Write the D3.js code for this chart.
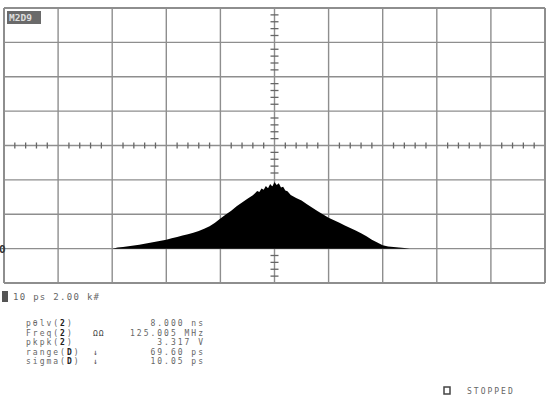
<!DOCTYPE html>
<html>
<head>
<meta charset="utf-8">
<script src="https://cdn.jsdelivr.net/npm/d3@7"></script>
<style>
  body { margin: 0; background: #fff; }
  svg { display: block; }
  text { font-family: "DejaVu Sans Mono", monospace; fill: #666; }
</style>
</head>
<body>
<div id="scope"></div>
<script>
// histogram bins: time (ps) vs hits (k#)
const binTime = [-30,-29,-28,-27,-26,-25,-24,-23,-22,-21,-20,-19,-18,-17,-16,-15,-14,-13,-12,-11,
                 -10,-9,-8,-7,-6,-5,-4,3,4,5,6,7,8,9,
                 10,11,12,13,14,15,16,17,18,19,20,21,22,23,24,25];
const binHits = [0.00,0.06,0.10,0.14,0.18,0.23,0.28,0.34,0.40,0.46,0.52,0.60,0.68,0.76,0.84,0.93,1.03,1.15,1.30,1.50,
                 1.75,1.98,2.20,2.46,2.68,2.90,3.10,3.12,2.95,2.80,2.58,2.38,2.18,1.98,
                 1.80,1.65,1.50,1.35,1.20,1.05,0.90,0.72,0.52,0.35,0.20,0.13,0.09,0.06,0.03,0.00];
// finer, noisy bins around the peak
const peakTime = [-3.6,-3.2,-2.8,-2.4,-2.0,-1.6,-1.2,-0.8,-0.4,0.0,0.4,0.8,1.2,1.6,2.0,2.4];
const peakHits = [3.22,3.36,3.30,3.50,3.42,3.64,3.52,3.76,3.62,3.88,3.70,3.80,3.56,3.60,3.38,3.34];

const measLabels = ["p\u03b8lv(", "Freq(", "pkpk(", "range(", "sigma("];
const measSrc    = ["2", "2", "2", "D", "D"];
const measMark   = ["", "\u03a9\u03a9", "", "\u2193", "\u2193"];
const measValues = ["8.000 ns", "125.005 MHz", "3.317 V", "69.60 ps", "10.05 ps"];

const W = 548, H = 403;
const svg = d3.select("#scope").append("svg").attr("width", W).attr("height", H);

const x = d3.scaleLinear().domain([-50, 50]).range([4, 545]);
const y = d3.scaleLinear().domain([-2, 14]).range([283, 8]);

const gridCol = "#8e8e8e";
const xDivs = d3.range(-50, 51, 10);
const yDivs = d3.range(-2, 15, 2);

// grid
svg.selectAll(".vgrid")
    .data(xDivs)
    .enter()
    .append("line")
    .attr("x1", d => x(d)).attr("x2", d => x(d))
    .attr("y1", y(14)).attr("y2", y(-2))
    .attr("stroke", gridCol)
    .attr("stroke-width", d => (d === -50 || d === 50) ? 2 : 1.4);

svg.selectAll(".hgrid")
    .data(yDivs)
    .enter()
    .append("line")
    .attr("x1", x(-50)).attr("x2", x(50))
    .attr("y1", d => y(d)).attr("y2", d => y(d))
    .attr("stroke", gridCol)
    .attr("stroke-width", d => (d === -2 || d === 14) ? 2 : 1.4);

// center axes minor ticks
const cx = x(0), cy = y(6);
svg.selectAll(".xtick")
    .data(d3.range(-48, 49, 2).filter(d => d % 10 !== 0))
    .enter()
    .append("line")
    .attr("x1", d => x(d)).attr("x2", d => x(d))
    .attr("y1", cy - 3).attr("y2", cy + 3)
    .attr("stroke", "#666")
    .attr("stroke-width", 1.3);

svg.selectAll(".ytick")
    .data(d3.range(-1.6, 14, 0.4).filter(d => Math.abs(d / 2 - Math.round(d / 2)) > 0.01))
    .enter()
    .append("line")
    .attr("x1", cx - 4).attr("x2", cx + 4)
    .attr("y1", d => y(d)).attr("y2", d => y(d))
    .attr("stroke", "#666")
    .attr("stroke-width", 1.3);

// histogram fill (drawn over the grid)
const pts = binTime.map((t, i) => ({ t, h: binHits[i] }))
    .concat(peakTime.map((t, i) => ({ t, h: peakHits[i] })))
    .sort((a, b) => a.t - b.t);
svg.append("path")
    .datum(pts)
    .attr("fill", "#000")
    .attr("d", d3.area().x(d => x(d.t)).y0(y(0)).y1(d => y(d.h)));

// trace label
svg.append("rect")
    .attr("x", 7).attr("y", 11).attr("width", 34).attr("height", 13)
    .attr("fill", "#6a6a6a");
svg.append("text")
    .attr("x", 9).attr("y", 21)
    .style("font-size", "9.5px")
    .style("fill", "#ddd")
    .style("font-weight", "bold")
    .text("M2D9");

// baseline marker
svg.append("text")
    .attr("x", -1).attr("y", y(0) + 4)
    .style("font-size", "11px")
    .style("fill", "#333")
    .style("font-weight", "bold")
    .text("0");

// scale line
svg.append("rect")
    .attr("x", 2).attr("y", 291).attr("width", 6).attr("height", 11)
    .attr("fill", "#555");
svg.append("text")
    .attr("x", 13).attr("y", 300)
    .style("font-size", "9px")
    .style("letter-spacing", "1.3px")
    .text("10 ps 2.00 k#");

// measurements
const fs = 8, ls = 2, adv = fs * 0.602 + ls;
const rowY = d3.scaleLinear().domain([0, 4]).range([326, 364]);
const rows = svg.selectAll(".meas")
    .data(measLabels)
    .enter()
    .append("g");

rows.append("text")
    .attr("x", 26).attr("y", (d, i) => rowY(i))
    .style("font-size", fs + "px")
    .style("letter-spacing", ls + "px")
    .text(d => d);

rows.append("text")
    .attr("x", d => 26 + d.length * adv)
    .attr("y", (d, i) => rowY(i))
    .style("font-size", fs + "px")
    .style("font-weight", "bold")
    .style("fill", "#222")
    .text((d, i) => measSrc[i]);

rows.append("text")
    .attr("x", d => 26 + (d.length + 1) * adv)
    .attr("y", (d, i) => rowY(i))
    .style("font-size", fs + "px")
    .text(")");

rows.append("text")
    .attr("x", 93).attr("y", (d, i) => rowY(i))
    .style("font-size", fs + "px")
    .style("letter-spacing", "1px")
    .style("fill", "#444")
    .text((d, i) => measMark[i]);

rows.append("text")
    .attr("x", 205).attr("y", (d, i) => rowY(i))
    .attr("text-anchor", "end")
    .style("font-size", fs + "px")
    .style("letter-spacing", ls + "px")
    .text((d, i) => measValues[i]);

// status
svg.append("rect")
    .attr("x", 444).attr("y", 387).attr("width", 6).attr("height", 7)
    .attr("fill", "none")
    .attr("stroke", "#444")
    .attr("stroke-width", 1.5);
svg.append("text")
    .attr("x", 467).attr("y", 394)
    .style("font-size", "8px")
    .style("letter-spacing", "2px")
    .text("STOPPED");
</script>
</body>
</html>
